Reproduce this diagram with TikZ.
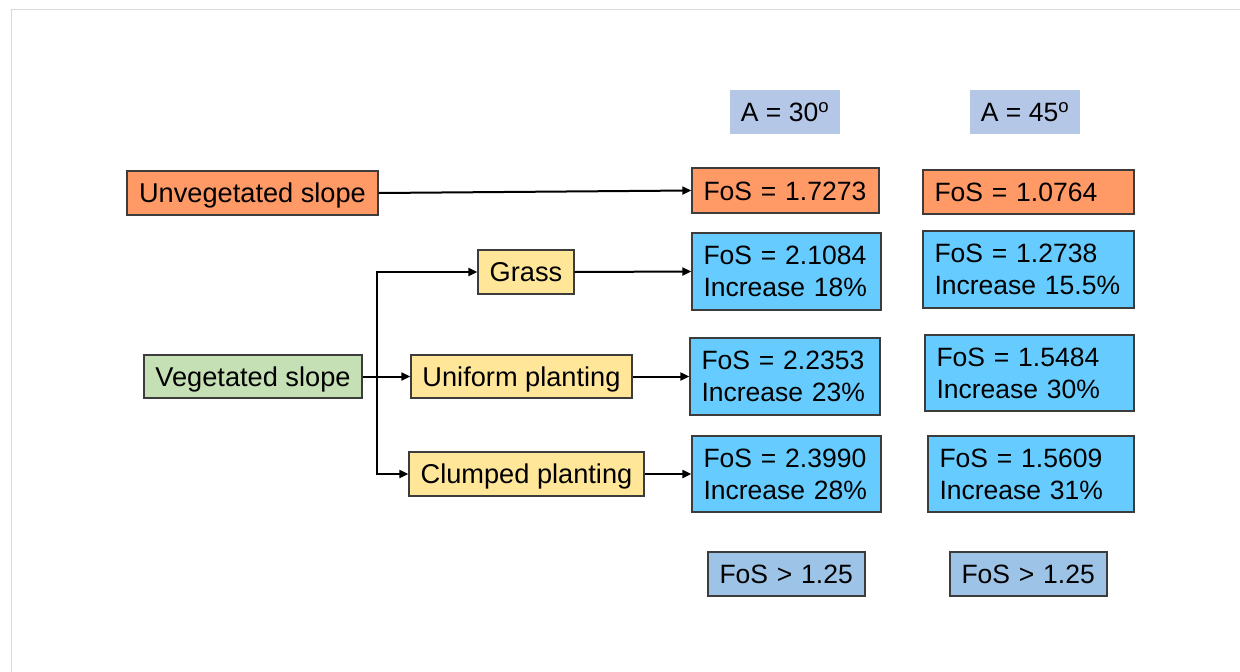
\documentclass[tikz,border=0pt]{standalone}
\usepackage{fontspec}
\setmainfont{Liberation Sans}
\usetikzlibrary{arrows.meta}
\definecolor{orangeF}{RGB}{255,153,102}
\definecolor{blueF}{RGB}{102,204,255}
\definecolor{yellowF}{RGB}{255,230,153}
\definecolor{greenF}{RGB}{197,224,180}
\definecolor{headF}{RGB}{180,199,231}
\definecolor{critF}{RGB}{157,195,230}
\definecolor{boxline}{RGB}{60,60,60}
\definecolor{frameC}{RGB}{217,217,217}
\begin{document}
\begin{tikzpicture}[x=1pt,y=-1pt,
  every node/.style={font=\fontsize{26.5}{32}\selectfont, rectangle, inner ysep=0pt},
  framed/.style={draw=boxline, line width=1.3pt},
  cbox/.style 2 args={framed, font=\fontsize{27.2}{32}\selectfont, minimum width=#1, minimum height=#2, inner xsep=0pt, text height=19.5pt, text depth=0pt},
  lbox/.style 2 args={framed, text width=#1, minimum height=#2, inner xsep=11.5pt, align=left},
  lone/.style={text height=19pt, text depth=0pt},
  headbox/.style={fill=headF, minimum width=110pt, minimum height=44pt, inner xsep=0pt, text height=19pt, text depth=0pt},
  arr/.style={draw=black, line width=2pt, -{Triangle[length=9pt,width=8pt]}}
]
\useasboundingbox (0,0) rectangle (1240,672);
\draw[frameC, line width=1.5pt] (11.5,672) -- (11.5,9.5) -- (1240,9.5);

% headers
\node[headbox] (a30) at (785,112) {A = 30\textsuperscript{o}};
\node[headbox] (a45) at (1025,112) {A = 45\textsuperscript{o}};

% left side
\node[cbox={251pt}{44pt}, fill=orangeF] (unveg) at (252.5,193) {Unvegetated slope};
\node[cbox={218pt}{43pt}, fill=greenF] (veg) at (253,376.5) {Vegetated slope};
\node[cbox={96pt}{44pt}, fill=yellowF] (grass) at (526,272) {Grass};
\node[cbox={221pt}{43pt}, fill=yellowF] (uniform) at (521.5,376.5) {Uniform planting};
\node[cbox={235pt}{44pt}, fill=yellowF] (clumped) at (526.5,474) {Clumped planting};

% results A = 30
\node[lbox={164pt}{45pt}, lone, fill=orangeF] (f1) at (785.5,190.5) {\mbox{FoS = 1.7273}};
\node[lbox={166pt}{77pt}, fill=blueF] (g1) at (786.5,271.5) {\mbox{FoS = 2.1084}\\\mbox{Increase 18\%}};
\node[lbox={167pt}{77pt}, fill=blueF] (u1) at (785,376.5) {\mbox{FoS = 2.2353}\\\mbox{Increase 23\%}};
\node[lbox={166pt}{76pt}, fill=blueF] (c1) at (786.5,474) {\mbox{FoS = 2.3990}\\\mbox{Increase 28\%}};
\node[lbox={134pt}{44pt}, lone, fill=critF] (t1) at (786.5,574) {\mbox{FoS > 1.25}};

% results A = 45
\node[lbox={188pt}{44pt}, lone, fill=orangeF] (f2) at (1028.5,192) {\mbox{FoS = 1.0764}};
\node[lbox={188pt}{77pt}, fill=blueF] (g2) at (1028.5,269.5) {\mbox{FoS = 1.2738}\\\mbox{Increase 15.5\%}};
\node[lbox={186pt}{76pt}, fill=blueF] (u2) at (1029.5,373) {\mbox{FoS = 1.5484}\\\mbox{Increase 30\%}};
\node[lbox={183pt}{76pt}, fill=blueF] (c2) at (1031,474) {\mbox{FoS = 1.5609}\\\mbox{Increase 31\%}};
\node[lbox={134pt}{44pt}, lone, fill=critF] (t2) at (1028.5,574) {\mbox{FoS > 1.25}};

% connectors
\coordinate (J) at (377,376.5);
\draw[arr] (unveg.east) -- (f1.west);
\draw[arr] (veg.east) -- (uniform.west);
\draw[arr] (J) |- (grass.west);
\draw[arr] (J) |- (clumped.west);
\draw[arr] (grass.east) -- (g1.west);
\draw[arr] (uniform.east) -- (u1.west);
\draw[arr] (clumped.east) -- (c1.west);
\end{tikzpicture}
\end{document}
